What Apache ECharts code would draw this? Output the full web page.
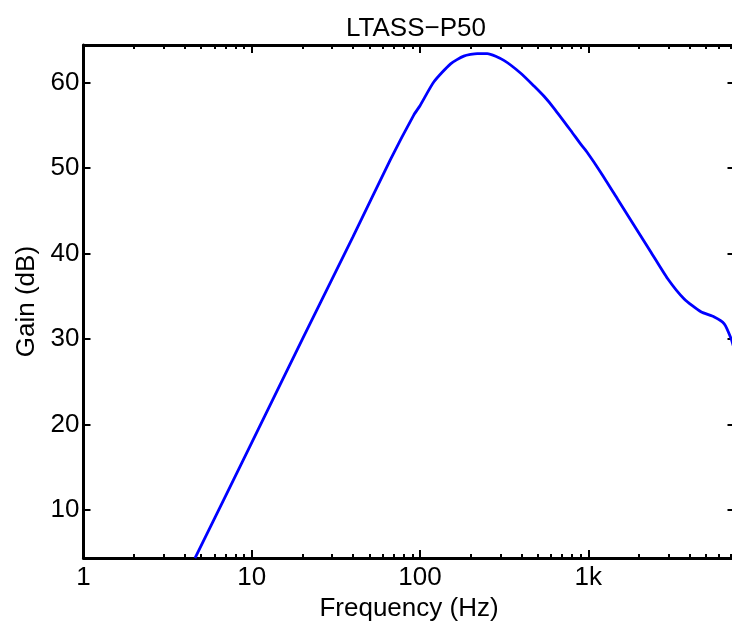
<!DOCTYPE html>
<html>
<head>
<meta charset="utf-8">
<script src="https://cdn.jsdelivr.net/npm/echarts@6/dist/echarts.min.js"></script>
<style>
html,body{margin:0;padding:0;overflow:hidden;background:#fff;}
#c{width:740px;height:627px;}
</style>
</head>
<body>
<div id="c"></div>
<script>
// Data
const freqHz = [4.6, 10, 20, 40, 66.7, 91.8, 100, 121, 152, 182, 219, 251, 315, 397, 476, 546, 626, 787, 902, 989, 1187, 1492, 1874, 2355, 2959, 3718, 4673, 5610, 6430, 7050, 7400];
const gainDb = [4.4, 17.9, 30.0, 42.0, 51.0, 56.2, 57.3, 60.1, 62.2, 63.1, 63.4, 63.4, 62.6, 61.1, 59.6, 58.4, 57.0, 54.4, 52.8, 51.8, 49.5, 46.4, 43.3, 40.2, 37.1, 34.7, 33.2, 32.6, 31.8, 30.1, 28.7];
const xMajorTicks = [1, 10, 100, 1000];
const xMinorTicks = [2,3,4,5,6,7,8,9,20,30,40,50,60,70,80,90,200,300,400,500,600,700,800,900,2000,3000,4000,5000,6000,7000];
const yTicks = [10, 20, 30, 40, 50, 60];
const xLabelText = {1: '1', 10: '10', 100: '100', 1000: '1k'};

const FONT = "'Liberation Sans', Arial, Helvetica, sans-serif";
const FS = 26;
const X_MIN = 1, X_MAX = 7400, Y_MIN = 4.4, Y_MAX = 64.4;

const points = freqHz.map((f, i) => [f, gainDb[i]]);

function xAxisBase(pos, ticks, len, showLabels, showLine) {
  return {
    type: 'log', logBase: 10, min: X_MIN, max: X_MAX, position: pos,
    axisLine: {show: showLine, lineStyle: {color: '#000', width: 3}},
    axisTick: {show: true, inside: true, length: len, customValues: ticks, lineStyle: {color: '#000', width: 2}},
    axisLabel: {show: showLabels, customValues: xMajorTicks, margin: 7, color: '#000', fontFamily: FONT, fontSize: FS,
      formatter: v => xLabelText[Math.round(v)] || ''},
    splitLine: {show: false}, minorTick: {show: false}
  };
}
function yAxisBase(pos, showLabels) {
  return {
    type: 'value', min: Y_MIN, max: Y_MAX, position: pos,
    axisLine: {show: true, lineStyle: {color: '#000', width: 3}},
    axisTick: {show: true, inside: true, length: 7, customValues: yTicks, lineStyle: {color: '#000', width: 2}},
    axisLabel: {show: showLabels, customValues: yTicks, margin: 4, color: '#000', fontFamily: FONT, fontSize: FS},
    splitLine: {show: false}
  };
}

const xAxes = [
  Object.assign(xAxisBase('bottom', xMajorTicks, 8, true, true), {
    name: 'Frequency (Hz)', nameLocation: 'middle', nameGap: 33,
    nameTextStyle: {color: '#000', fontFamily: FONT, fontSize: FS}
  }),
  xAxisBase('bottom', xMinorTicks, 4, false, false),
  xAxisBase('top', xMajorTicks, 8, false, true),
  xAxisBase('top', xMinorTicks, 4, false, false)
];
const yAxes = [
  Object.assign(yAxisBase('left', true), {
    name: 'Gain (dB)', nameLocation: 'middle', nameGap: 44, nameRotate: 90,
    nameTextStyle: {color: '#000', fontFamily: FONT, fontSize: FS}
  }),
  yAxisBase('right', false)
];

const chart = echarts.init(document.getElementById('c'), null, {renderer: 'canvas'});
chart.setOption({
  animation: false,
  backgroundColor: '#fff',
  title: {text: 'LTASS\u2212P50', left: 411, textAlign: 'center', top: 11,
    textStyle: {color: '#000', fontFamily: FONT, fontSize: FS, fontWeight: 'normal'}},
  grid: {left: 83.5, right: 5.5, top: 45, bottom: 66, containLabel: false},
  xAxis: xAxes,
  yAxis: yAxes,
  series: [{
    type: 'line', data: points, xAxisIndex: 0, yAxisIndex: 0,
    showSymbol: false, smooth: 0.2, clip: true,
    lineStyle: {color: '#0000ff', width: 2.8}
  }]
});
</script>
</body>
</html>
